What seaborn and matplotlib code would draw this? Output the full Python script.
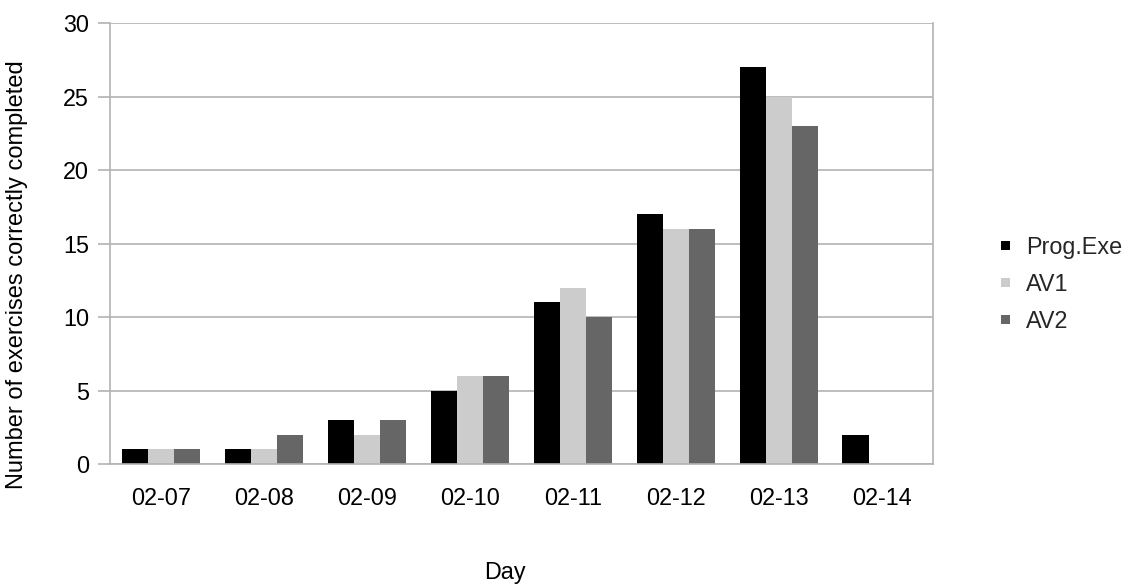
import matplotlib
matplotlib.use("Agg")
import matplotlib.pyplot as plt
from matplotlib.patches import Patch
from matplotlib.ticker import FixedLocator, NullFormatter
import pandas as pd
import seaborn as sns

days = ["02-07", "02-08", "02-09", "02-10", "02-11", "02-12", "02-13", "02-14"]
series_names = ["Prog.Exe", "AV1", "AV2"]
prog_exe = [1, 1, 3, 5, 11, 17, 27, 2]
av1 = [1, 1, 2, 6, 12, 16, 25, 0]
av2 = [1, 2, 3, 6, 10, 16, 23, 0]
y_ticks = [0, 5, 10, 15, 20, 25, 30]

colors = ["#000000", "#cccccc", "#666666"]
grid_color = "#b3b3b3"
fs = 16.8

sns.set_theme(style="white")
plt.rcParams["font.family"] = ["Liberation Sans", "DejaVu Sans"]

df = pd.DataFrame({
    "Day": days * 3,
    "Series": [s for s in series_names for _ in days],
    "Value": prog_exe + av1 + av2,
})

fig = plt.figure(figsize=(11.29, 5.87), dpi=100)
ax = fig.add_axes([0.0974, 0.2095, 0.7290, 0.7513])

sns.barplot(data=df, x="Day", y="Value", hue="Series", order=days,
            hue_order=series_names, palette=colors, width=0.76,
            linewidth=0, saturation=1, errorbar=None, legend=False, ax=ax)

ax.set_xlim(-0.5, len(days) - 0.5)
ax.set_ylim(0, 30)
ax.set_yticks(y_ticks)
ax.yaxis.grid(True, color=grid_color, linewidth=1.2)
ax.set_axisbelow(True)

# category boundaries carry the tick marks, labels sit at the centres
ax.xaxis.set_minor_locator(FixedLocator([i - 0.5 for i in range(len(days) + 1)]))
ax.xaxis.set_minor_formatter(NullFormatter())
ax.tick_params(axis="x", which="major", length=0, pad=16.5, labelsize=fs, colors="#000000")
ax.tick_params(axis="x", which="minor", length=8.5, width=1.2, color=grid_color)
ax.tick_params(axis="y", length=9, width=1.2, color=grid_color, pad=6,
               labelsize=fs, labelcolor="#000000", left=True)

for side in ["left", "right", "bottom"]:
    ax.spines[side].set_color(grid_color)
    ax.spines[side].set_linewidth(1.2)
ax.spines["top"].set_visible(False)

ax.set_xlabel("Day", fontsize=fs, color="#000000", va="center")
ax.xaxis.set_label_coords(0.48, -0.245)
ax.set_ylabel("Number of exercises correctly completed", fontsize=17, color="#000000")
ax.yaxis.set_label_coords(-0.099, 0.4286)

# small square swatches in the legend
handles = [Patch(facecolor=c, edgecolor="none") for c in colors]
fig.legend(handles, series_names, loc="center left", bbox_to_anchor=(0.8866, 0.516),
           frameon=False, fontsize=fs, handlelength=0.38, handleheight=0.2,
           handletextpad=0.7, labelspacing=0.6, borderpad=0, borderaxespad=0)

fig.savefig("out.png", dpi=100)
